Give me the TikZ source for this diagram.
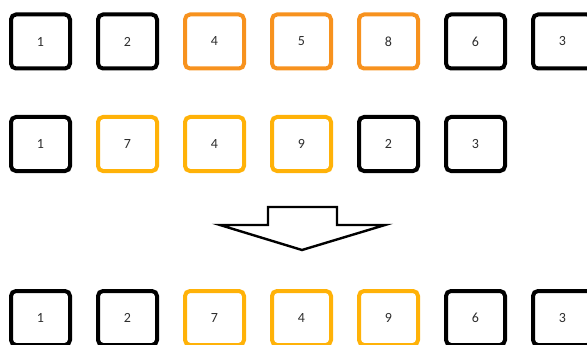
\documentclass[tikz,border=0pt]{standalone}
\usepackage{fontspec}
\setmainfont{Carlito}
\usepackage{tikz}
\usetikzlibrary{positioning}

\definecolor{rowone}{RGB}{247,146,30}
\definecolor{rowtwo}{RGB}{255,178,8}
\definecolor{digit}{RGB}{45,45,45}

\tikzset{
  cell/.style={draw=#1, line width=4pt, rounded corners=5pt, minimum width=59pt,
    minimum height=54pt, inner sep=0pt, text=digit, font=\fontsize{14}{16}\selectfont},
  cell/.default=black
}

\begin{document}
\begin{tikzpicture}[x=1pt, y=-1pt]
      \useasboundingbox (0,0) rectangle (587,345);

      % First list (merged block in orange)
      \foreach \i/\n/\c in {1/1/black,2/2/black,3/4/rowone,4/5/rowone,5/8/rowone,6/6/black,7/3/black} {
        \node[cell=\c] (a\i) at ({40.5+87*(\i-1)},41.5) {\n};
      }

      % Second list (block to move in yellow)
      \foreach \i/\n/\c in {1/1/black,2/7/rowtwo,3/4/rowtwo,4/9/rowtwo,5/2/black,6/3/black} {
        \node[cell=\c] (b\i) at ({40.5+87*(\i-1)},144) {\n};
      }

      % Big arrow down
      \draw[line width=2.4pt, line join=miter, fill=white]
        (268,207) -- (337,207) -- (337,225) -- (385,225) -- (302,250)
        -- (220,225) -- (268,225) -- cycle;

      % Result list
      \foreach \i/\n/\c in {1/1/black,2/2/black,3/7/rowtwo,4/4/rowtwo,5/9/rowtwo,6/6/black,7/3/black} {
        \node[cell=\c] (c\i) at ({40.5+87*(\i-1)},318) {\n};
      }
\end{tikzpicture}
\end{document}
